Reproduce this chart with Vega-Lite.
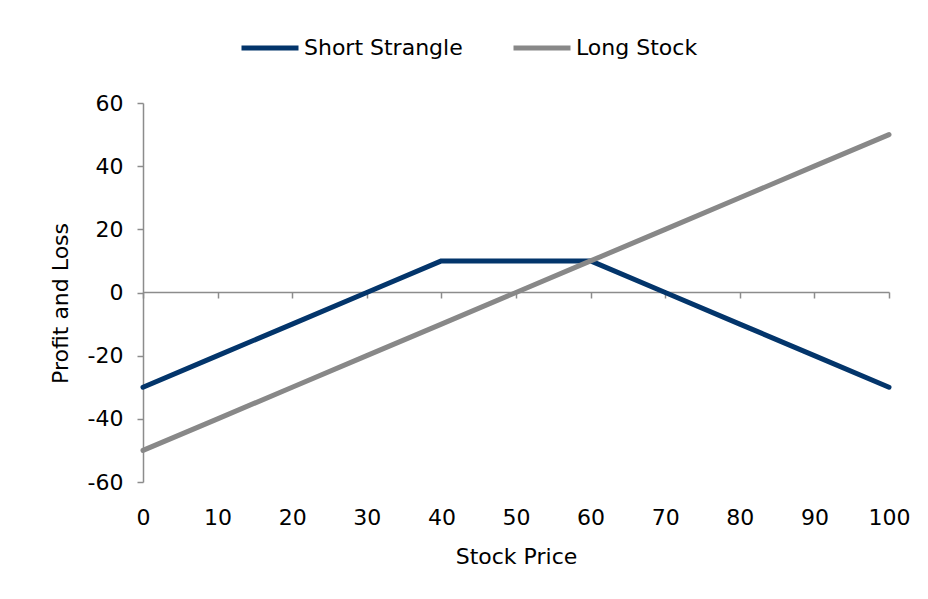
{
  "$schema": "https://vega.github.io/schema/vega-lite/v6.json",
  "autosize": {"type": "none"},
  "width": 746,
  "height": 379,
  "padding": {"left": 143, "top": 103, "right": 39, "bottom": 117},
  "background": "white",
  "config": {
    "view": {"stroke": null},
    "font": "DejaVu Sans"
  },
  "data": {
    "values": [
      {"price": 0, "pnl": -30, "series": "Short Strangle"},
      {"price": 10, "pnl": -20, "series": "Short Strangle"},
      {"price": 20, "pnl": -10, "series": "Short Strangle"},
      {"price": 30, "pnl": 0, "series": "Short Strangle"},
      {"price": 40, "pnl": 10, "series": "Short Strangle"},
      {"price": 50, "pnl": 10, "series": "Short Strangle"},
      {"price": 60, "pnl": 10, "series": "Short Strangle"},
      {"price": 70, "pnl": 0, "series": "Short Strangle"},
      {"price": 80, "pnl": -10, "series": "Short Strangle"},
      {"price": 90, "pnl": -20, "series": "Short Strangle"},
      {"price": 100, "pnl": -30, "series": "Short Strangle"},
      {"price": 0, "pnl": -50, "series": "Long Stock"},
      {"price": 10, "pnl": -40, "series": "Long Stock"},
      {"price": 20, "pnl": -30, "series": "Long Stock"},
      {"price": 30, "pnl": -20, "series": "Long Stock"},
      {"price": 40, "pnl": -10, "series": "Long Stock"},
      {"price": 50, "pnl": 0, "series": "Long Stock"},
      {"price": 60, "pnl": 10, "series": "Long Stock"},
      {"price": 70, "pnl": 20, "series": "Long Stock"},
      {"price": 80, "pnl": 30, "series": "Long Stock"},
      {"price": 90, "pnl": 40, "series": "Long Stock"},
      {"price": 100, "pnl": 50, "series": "Long Stock"}
    ]
  },
  "mark": {"type": "line", "strokeWidth": 5, "strokeCap": "round", "strokeJoin": "round"},
  "encoding": {
    "x": {
      "field": "price", "type": "quantitative",
      "scale": {"domain": [0, 100], "nice": false, "zero": false},
      "axis": {
        "title": "Stock Price",
        "values": [0,10,20,30,40,50,60,70,80,90,100],
        "offset": -190,
        "grid": false,
        "domainColor": "#8c8c8c", "domainWidth": 1.5,
        "tickColor": "#8c8c8c", "tickWidth": 1.5, "tickSize": 6,
        "labelPadding": 209,
        "labelFlush": false,
        "labelFontSize": 22, "labelColor": "#000000",
        "titleFontSize": 22, "titleFontWeight": "normal", "titleColor": "#000000",
        "titleY": 264, "titleBaseline": "middle"
      }
    },
    "y": {
      "field": "pnl", "type": "quantitative",
      "scale": {"domain": [-60, 60], "nice": false},
      "axis": {
        "title": "Profit and Loss",
        "values": [-60,-40,-20,0,20,40,60],
        "labelExpr": "datum.value < 0 ? '-' + abs(datum.value) : '' + datum.value",
        "grid": false,
        "domainColor": "#8c8c8c", "domainWidth": 1.5,
        "tickColor": "#8c8c8c", "tickWidth": 1.5, "tickSize": 6,
        "labelPadding": 14,
        "labelFontSize": 22, "labelColor": "#000000",
        "titleFontSize": 22, "titleFontWeight": "normal", "titleColor": "#000000",
        "titleX": -83, "titleY": 200, "titleBaseline": "middle"
      }
    },
    "color": {
      "field": "series", "type": "nominal",
      "scale": {"domain": ["Short Strangle", "Long Stock"], "range": ["#03356b", "#888888"]},
      "legend": {
        "title": null,
        "orient": "none",
        "direction": "horizontal",
        "legendX": 96,
        "legendY": -86,
        "symbolType": "stroke",
        "symbolSize": 3249,
        "symbolStrokeWidth": 5,
        "labelOffset": 3,
        "columnPadding": 40,
        "labelFontSize": 22,
        "labelColor": "#000000"
      }
    }
  }
}
